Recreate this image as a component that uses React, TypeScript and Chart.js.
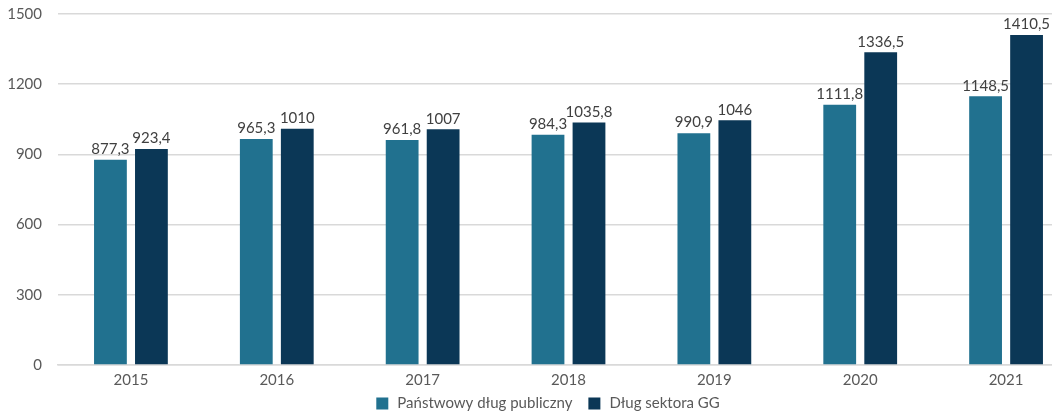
import React, { useEffect, useRef } from "react";
import { Chart, registerables } from "chart.js";

Chart.register(...registerables);

const categories = ["2015", "2016", "2017", "2018", "2019", "2020", "2021"];
const seriesPublic = [877.3, 965.3, 961.8, 984.3, 990.9, 1111.8, 1148.5];
const seriesGG = [923.4, 1010, 1007, 1035.8, 1046, 1336.5, 1410.5];
const seriesNames = ["Państwowy dług publiczny", "Dług sektora GG"];
const yTicks = [0, 300, 600, 900, 1200, 1500];
const colors = ["#21718f", "#0b3756"];

const FONT = "Lato, 'Liberation Sans', sans-serif";
const OFFSET = 11;

const dataLabels = {
  id: "dataLabels",
  afterDatasetsDraw(chart: any) {
    const ctx = chart.ctx;
    ctx.save();
    ctx.font = `15px ${FONT}`;
    ctx.fillStyle = "#404040";
    ctx.textAlign = "center";
    ctx.textBaseline = "bottom";
    chart.data.datasets.forEach((ds: any, i: number) => {
      const meta = chart.getDatasetMeta(i);
      meta.data.forEach((el: any, j: number) => {
        const v = ds.data[j];
        ctx.fillText(String(v).replace(".", ","), el.x, el.y - 3);
      });
    });
    ctx.restore();
  },
};

const bottomLegend = {
  id: "bottomLegend",
  afterDraw(chart: any) {
    const ctx = chart.ctx;
    ctx.save();
    ctx.font = `15px ${FONT}`;
    ctx.textBaseline = "middle";
    ctx.textAlign = "left";
    const box = 12;
    const gapBox = 9;
    const gapItem = 16;
    const widths = seriesNames.map((n) => ctx.measureText(n).width);
    const total = widths.reduce((a, w) => a + box + gapBox + w, 0) + gapItem;
    let x = 548 - total / 2;
    const cy = 403.5 + OFFSET;
    seriesNames.forEach((n, i) => {
      ctx.fillStyle = colors[i];
      ctx.fillRect(x, cy - box / 2, box, box);
      x += box + gapBox;
      ctx.fillStyle = "#595959";
      ctx.fillText(n, x, cy);
      x += widths[i] + gapItem;
    });
    ctx.restore();
  },
};

export default function App() {
  const ref = useRef<HTMLCanvasElement>(null);
  useEffect(() => {
    if (!ref.current) return;
    const chart = new Chart(ref.current, {
      type: "bar",
      data: {
        labels: categories,
        datasets: seriesNames.map((name, i) => ({
          label: name,
          data: i === 0 ? seriesPublic : seriesGG,
          backgroundColor: colors[i],
          barPercentage: 0.8,
          categoryPercentage: 0.562,
        })),
      },
      options: {
        animation: false,
        responsive: false,
        maintainAspectRatio: false,
        layout: { padding: { top: 4, right: 23, left: 0, bottom: 27 } },
        scales: {
          x: {
            grid: { display: false },
            border: { color: "#d9d9d9", width: 1.5 },
            ticks: {
              color: "#595959",
              font: { family: FONT, size: 15 },
              padding: -2,
            },
          },
          y: {
            min: 0,
            max: 1500,
            afterBuildTicks: (axis: any) => {
              axis.ticks = yTicks.map((v) => ({ value: v }));
            },
            afterFit: (axis: any) => {
              axis.width = 58;
            },
            grid: { color: "#d9d9d9", lineWidth: 1.5, drawTicks: false },
            border: { display: false },
            ticks: {
              color: "#595959",
              font: { family: FONT, size: 15 },
              padding: 16,
              callback: (v: any) => String(v),
            },
          },
        },
        plugins: {
          legend: { display: false },
          tooltip: { enabled: false },
        },
      },
      plugins: [dataLabels, bottomLegend],
    });
    return () => chart.destroy();
  }, []);
  return (
    <div
      style={{
        position: "fixed",
        left: 0,
        top: 0,
        width: 1052,
        height: 414,
        overflow: "hidden",
        background: "#fff",
      }}
    >
      <canvas
        ref={ref}
        width={1102}
        height={414 + OFFSET}
        style={{ position: "absolute", left: 0, top: -OFFSET, width: 1102, height: 414 + OFFSET }}
      />
    </div>
  );
}
